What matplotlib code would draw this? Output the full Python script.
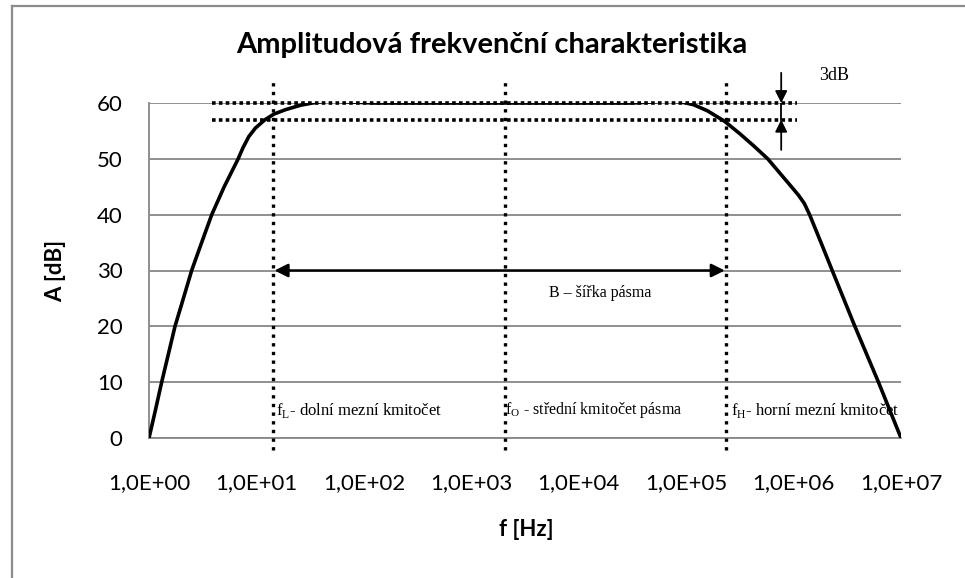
import numpy as np
import matplotlib.pyplot as plt
from matplotlib.lines import Line2D

plt.rcParams['mathtext.fontset'] = 'custom'
plt.rcParams['mathtext.rm'] = 'Liberation Serif'

# amplitude curve
freq = [1.0, 1.148, 1.312, 1.514, 1.746, 2.089, 2.495, 3.09, 3.837, 5.01, 6.76, 7.5, 8.5, 9.77,
        12.0, 14.5, 18.6, 25.7, 35.5, 48.4, 70.8, 126.0, 1.0e3, 1.0e4, 3.16e4, 5.0e4,
        6.76e4, 8.9e4, 1.17e5, 1.58e5, 2.29e5, 3.16e5, 4.27e5, 5.75e5, 7.41e5, 9.55e5,
        1.11e6, 1.26e6, 1.41e6, 1.80e6, 2.29e6, 3.72e6, 6.17e6, 1.0e7]
amp_db = [0.0, 5.0, 10.0, 15.0, 20.0, 25.0, 30.0, 35.0, 40.0, 45.0, 50.0, 52.0, 54.0, 55.5,
          57.0, 58.0, 58.8, 59.6, 60.1, 60.4, 60.2, 60.0, 60.0, 60.0, 60.0, 60.2,
          60.4, 60.2, 59.7, 58.6, 56.7, 54.5, 52.3, 50.0, 47.5, 45.0,
          43.5, 42.0, 40.0, 35.0, 30.0, 20.0, 10.0, 0.0]

f_low = 14.3
f_mid = 2065.0
f_high = 2.36e5
level_max = 60.0
level_3db = 57.0

xtick_vals = [1e0, 1e1, 1e2, 1e3, 1e4, 1e5, 1e6, 1e7]
xtick_labels = ['1,0E+00', '1,0E+01', '1,0E+02', '1,0E+03', '1,0E+04', '1,0E+05', '1,0E+06', '1,0E+07']
ytick_vals = [0, 10, 20, 30, 40, 50, 60]

GRID = '#878787'
SANS = 'Lato'
SERIF = 'Liberation Serif'

fig = plt.figure(figsize=(9.65, 5.78), dpi=100)
ax = fig.add_axes([149 / 965, 1 - 438 / 578, 752 / 965, 335 / 578])

# outer chart frame
fig.add_artist(Line2D([12 / 965, 1.0], [1 - 6 / 578, 1 - 6 / 578], color='#8c8c8c', lw=1.6, transform=fig.transFigure))
fig.add_artist(Line2D([12 / 965, 12 / 965], [0.0, 1 - 6 / 578], color='#8c8c8c', lw=1.6, transform=fig.transFigure))

ax.set_xscale('log')
ax.set_xlim(1, 1e7)
ax.set_ylim(0, 60)
ax.minorticks_off()
ax.set_xticks(xtick_vals)
ax.set_xticklabels(xtick_labels)
ax.set_yticks(ytick_vals)
ax.tick_params(axis='both', length=0, labelsize=16)
ax.tick_params(axis='x', pad=25)
ax.tick_params(axis='y', pad=19)
for lab in ax.get_xticklabels() + ax.get_yticklabels():
    lab.set_family(SANS)

ax.grid(axis='y', color=GRID, lw=1.3)
ax.set_axisbelow(True)
for side in ['top', 'right']:
    ax.spines[side].set_visible(False)
for side in ['left', 'bottom']:
    ax.spines[side].set_color(GRID)
    ax.spines[side].set_linewidth(1.3)

# the curve
ax.plot(freq, amp_db, color='black', lw=2.6, zorder=5, solid_joinstyle='round')

# dotted guide lines
for fv in [f_low, f_mid, f_high]:
    ax.plot([fv, fv], [-2.2, 64.1], color='black', lw=2.4, ls=(0, (1, 1.6)), clip_on=False, zorder=4)
for lv in [level_max, level_3db]:
    ax.plot([3.84, 1.07e6], [lv, lv], color='black', lw=2.6, ls=(0, (1, 0.9)), clip_on=False, zorder=4)

# 3dB marker
x3 = 7.67e5
ax.plot([x3, x3], [level_3db, level_max], color='black', lw=1.3, zorder=4)
ax.annotate('', xy=(x3, level_max), xytext=(x3, 65.4), annotation_clip=False,
            arrowprops=dict(arrowstyle='-|>', color='black', lw=1.3, mutation_scale=18, shrinkA=0, shrinkB=0))
ax.annotate('', xy=(x3, level_3db), xytext=(x3, 51.6), annotation_clip=False,
            arrowprops=dict(arrowstyle='-|>', color='black', lw=1.3, mutation_scale=18, shrinkA=0, shrinkB=0))
ax.text(2.39e6, 65.0, '3dB', family=SERIF, fontsize=13, ha='center', va='center')

# bandwidth arrow
ax.annotate('', xy=(f_low * 1.03, 30), xytext=(f_high / 1.03, 30),
            arrowprops=dict(arrowstyle='<|-|>', color='black', lw=1.8, mutation_scale=20, shrinkA=0, shrinkB=0),
            zorder=4)
ax.text(1.58e4, 26.0, 'B – šířka pásma', family=SERIF, fontsize=11.5, ha='center', va='center')

# labels of the marked frequencies
ax.text(f_low * 1.06, 5.0, r'f$_\mathrm{L}$- dolní mezní kmitočet', family=SERIF, fontsize=12, ha='left', va='center')
ax.text(f_mid * 1.0, 5.0, r'f$_\mathrm{O}$ - střední kmitočet pásma', family=SERIF, fontsize=11.5, ha='left', va='center')
ax.text(f_high * 1.1, 5.0, r'f$_\mathrm{H}$- horní mezní kmitočet', family=SERIF, fontsize=12, ha='left', va='center')

fig.text(492 / 965, 1 - 45 / 578, 'Amplitudová frekvenční charakteristika', family=SANS,
         fontweight='bold', fontsize=21, ha='center', va='center')
fig.text(56 / 965, 1 - 271 / 578, 'A [dB]', family=SANS, fontweight='bold', fontsize=16,
         rotation=90, ha='center', va='center')
fig.text(526 / 965, 1 - 529 / 578, 'f [Hz]', family=SANS, fontweight='bold', fontsize=16,
         ha='center', va='center')

fig.savefig('out.png', dpi=100)
